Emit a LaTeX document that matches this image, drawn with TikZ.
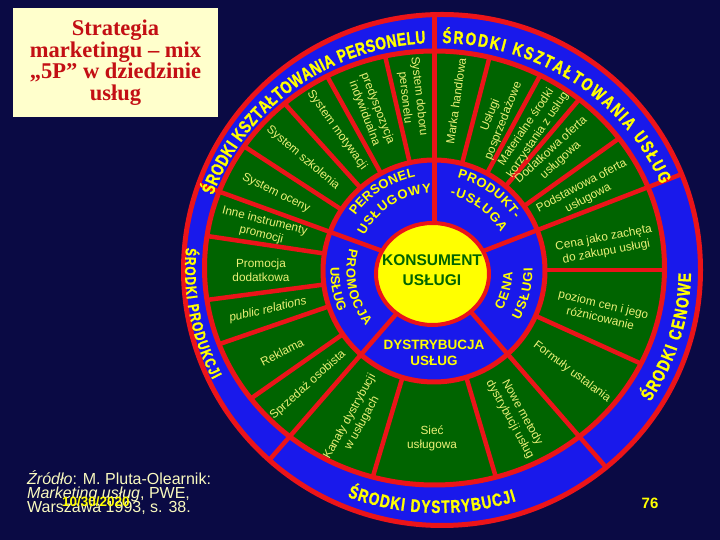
\documentclass[tikz,border=0pt]{standalone}
\usepackage{fontspec}
\setmainfont{Liberation Sans}
\newfontfamily\serifbold{Liberation Serif}
\newfontfamily\bandfont[FakeStretch=0.76, FakeBold=1.2]{Liberation Sans}
\usetikzlibrary{decorations.text}
\definecolor{bgc}{RGB}{10,10,68}
\definecolor{bluec}{RGB}{25,25,235}
\definecolor{greenc}{RGB}{0,100,0}
\definecolor{redc}{RGB}{235,20,25}
\definecolor{yelc}{RGB}{255,255,0}
\definecolor{gtextc}{RGB}{235,240,120}
\definecolor{titlered}{RGB}{195,15,20}
\definecolor{creamc}{RGB}{255,255,204}
\definecolor{srcc}{RGB}{250,250,190}
\definecolor{konsc}{RGB}{0,100,0}
\newcommand\bandfmt{\bandfont\bfseries\fontsize{18}{18}\selectfont\color{yelc}}
\newcommand\bandfmtsmall{\bandfont\bfseries\fontsize{15.5}{15.5}\selectfont\color{yelc}}
\newcommand\pfmt{\bfseries\fontsize{13}{13}\selectfont\color{yelc}}
\newcommand\gfont{\fontsize{11.8}{14}\selectfont}
\tikzset{
  sepline/.style={draw=redc, line width=4.5pt},
  ringline/.style={draw=redc, line width=5pt},
  gtext/.style={text=gtextc, font=\gfont, align=center, inner sep=0pt},
  bandtext/.style={decorate, decoration={text along path, text align=fit to path}},
}
\begin{document}
\begin{tikzpicture}[x=1pt,y=1pt]
\useasboundingbox (0,0) rectangle (720,540);
\fill[bgc] (0,0) rectangle (720,540);
% title box
\fill[creamc] (13,423) rectangle (218,532);
\node[font=\serifbold\bfseries\fontsize{22.5}{21.5}\selectfont, text=titlered, align=center] (title) at (115.5,477.5) {Strategia\\marketingu – mix\\„5P” w dziedzinie\\usług};
% wheel fills
\fill[bluec] (442,270) ellipse [x radius=258.5, y radius=255.5];
\fill[greenc] (434.5,272) ellipse [x radius=230, y radius=217];
\begin{scope}
  \clip (434.5,272) ellipse [x radius=230, y radius=217];
  \foreach \a in {75.5,61.5,49.7,35.5,0,-24.4,-73.5,253.4,215,199,187.5,171.5,147,132,119,103}
    \draw[sepline] (434.5,270) -- ++(\a:320);
\end{scope}
\fill[bluec] (434,269) circle [radius=111];
\begin{scope}
  \clip (442,270) ellipse [x radius=258.5, y radius=255.5];
  \foreach \a in {90,21.2,-49,229,160}
    \draw[sepline] (434.5,270) -- ++(\a:320);
\end{scope}
\fill[yelc] (432.5,266) ellipse [x radius=56.5, y radius=51];
\draw[ringline] (442,270) ellipse [x radius=258.5, y radius=255.5];
\draw[ringline] (434.5,272) ellipse [x radius=230, y radius=217];
\draw[ringline] (434,269) circle [radius=111];
\draw[redc, line width=4pt] (432.5,266) ellipse [x radius=56.5, y radius=51];
% outer band texts
\path[bandtext, decoration={text={|\bandfmt|ŚRODKI KSZTAŁTOWANIA PERSONELU}}] (438,271) ++(161:238 and 226) arc[start angle=161, end angle=93, x radius=238, y radius=226];
\path[bandtext, decoration={text={|\bandfmt|ŚRODKI KSZTAŁTOWANIA USŁUG}}] (438,271) ++(89:240 and 226) arc[start angle=89, end angle=22, x radius=240, y radius=226];
\path[bandtext, decoration={text={|\bandfmt|ŚRODKI CENOWE}}] (438,271) ++(-33:253 and 244) arc[start angle=-33, end angle=-1, x radius=253, y radius=244];
\path[bandtext, decoration={text={|\bandfmt|ŚRODKI DYSTRYBUCJI}}] (438,271) ++(249:253 and 244) arc[start angle=249, end angle=288, x radius=253, y radius=244];
\path[bandtext, decoration={text={|\bandfmtsmall|ŚRODKI PRODUKCJI}}] (438,271) ++(175:253 and 244) arc[start angle=175, end angle=207, x radius=253, y radius=244];
% 5P texts
\path[bandtext, decoration={text={|\pfmt|PERSONEL}}] (434,269) ++(145:96) arc[start angle=145, end angle=101, radius=96];
\path[bandtext, decoration={text={|\pfmt|USŁUGOWY}}] (434,269) ++(153:78) arc[start angle=153, end angle=92, radius=78];
\path[bandtext, decoration={text={|\pfmt|PRODUKT-}}] (434,269) ++(76:96) arc[start angle=76, end angle=33, radius=96];
\path[bandtext, decoration={text={|\pfmt|-USŁUGA}}] (434,269) ++(78:77) arc[start angle=78, end angle=30, radius=77];
\path[bandtext, decoration={text={|\pfmt|PROMOCJA}}] (434,269) ++(165:87.5) arc[start angle=165, end angle=219, radius=87.5];
\path[decorate, decoration={text along path, text align=center, text={|\pfmt|USŁUG}}] (434,269) ++(170:103.5) arc[start angle=170, end angle=211, radius=103.5];
\path[bandtext, decoration={text={|\pfmt|CENA}}] (434,269) ++(-30:78.5) arc[start angle=-30, end angle=-1, radius=78.5];
\path[bandtext, decoration={text={|\pfmt|USŁUGI}}] (434,269) ++(-30:98.5) arc[start angle=-30, end angle=2, radius=98.5];
\node[text=yelc, font=\bfseries\fontsize{13.5}{16}\selectfont, align=center] (dyst) at (434,187) {DYSTRYBUCJA\\USŁUG};
\node[text=konsc, font=\bfseries\fontsize{15.5}{20}\selectfont, align=center] (kons) at (432,270) {KONSUMENT\\USŁUGI};
% green segment texts
\node[gtext, rotate=-83.5] (t1) at (412,443) {System doboru\\personelu};
\node[gtext, rotate=82] (t2) at (456,439) {Marka handlowa};
\node[gtext, rotate=68.5] (t3) at (497,422) {Usługi\\posprzedażowe};
\node[gtext, rotate=56] (t4) at (532,409) {Materialne środki\\korzystania z usług};
\node[gtext, rotate=42.5] (t5) at (556,385) {Dodatkowa oferta\\usługowa};
\node[gtext, rotate=28] (t6) at (585,348) {Podstawowa oferta\\usługowa};
\node[gtext, rotate=10.6] (t7) at (605,295) {Cena jako zachęta\\do zakupu usługi};
\node[gtext, rotate=-13] (t8) at (602,229) {poziom cen i jego\\różnicowanie};
\node[gtext, rotate=-37] (t9) at (572,168) {Formuły ustalania};
\node[gtext, rotate=-61] (t10) at (516,124) {Nowe metody\\dystrybucji usług};
\node[gtext] (t11) at (432,102) {Sieć\\usługowa};
\node[gtext, rotate=61] (t12) at (356,120) {Kanały dystrybucji\\w usługach};
\node[gtext, rotate=42] (t13) at (308,155) {Sprzedaż osobista};
\node[gtext, rotate=27] (t14) at (282,188) {Reklama};
\node[gtext, rotate=13] (t15) at (268,230) {\itshape public relations};
\node[gtext] (t16) at (261,270) {Promocja\\dodatkowa};
\node[gtext, rotate=-14] (t17) at (263,312) {Inne instrumenty\\promocji};
\node[gtext, rotate=-26.5] (t18) at (276,347) {System oceny};
\node[gtext, rotate=-40.5] (t19) at (303,382) {System szkolenia};
\node[gtext, rotate=-54.5] (t20) at (337,410) {System motywacji};
\node[gtext, rotate=-69] (t21) at (371,429) {predyspozycja\\indywidualna};
% source
\node[anchor=base west, text=srcc, font=\fontsize{16}{16}\selectfont, inner sep=0pt] (s1) at (27,55) {\textit{Źródło}: M. Pluta-Olearnik:};
\node[anchor=base west, text=srcc, font=\fontsize{16}{16}\selectfont, inner sep=0pt] (s2) at (27,41) {\textit{Marketing usług}, PWE,};
\node[anchor=base west, text=srcc, font=\fontsize{16}{16}\selectfont, inner sep=0pt] (s3) at (27,27) {Warszawa 1993, s. 38.};
\node[anchor=base west, text=yelc, font=\bfseries\fontsize{13.5}{13.5}\selectfont, inner sep=0pt] (date) at (62,33) {10/30/2020};
\node[text=yelc, font=\bfseries\fontsize{15}{15}\selectfont] (pg) at (650,37) {76};
\end{tikzpicture}
\end{document}
